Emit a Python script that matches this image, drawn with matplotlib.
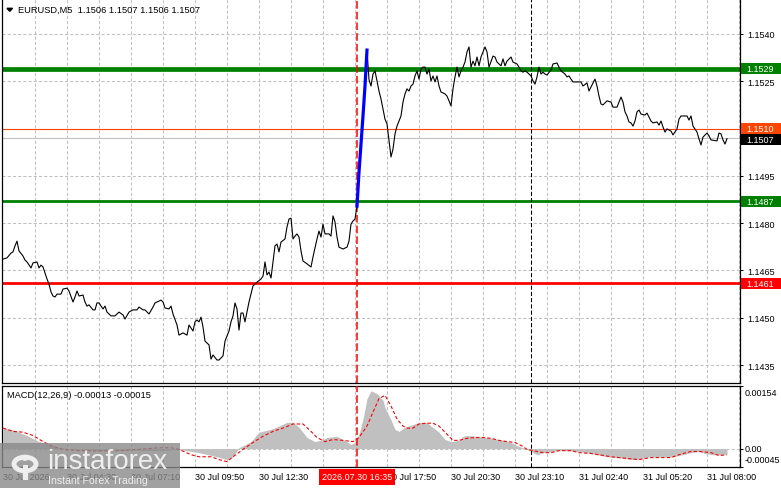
import numpy as np
import matplotlib.pyplot as plt
from matplotlib.patches import Rectangle, Circle, Polygon
from matplotlib.transforms import blended_transform_factory

# closes of EURUSD M5 (bar index, price)
price_bars = [0, 2, 4, 5, 6, 7, 8, 10, 11, 12, 14, 15, 17, 18, 19, 20, 22, 23, 24, 25, 26, 27, 29, 30,
              32, 33, 35, 36, 37, 38, 40, 41, 42, 43, 45, 46, 47, 48, 50, 51, 52, 54, 56, 58, 60, 61,
              63, 65, 67, 68, 70, 71, 73, 75, 76, 79, 80, 81, 83, 84, 85, 87, 88, 90, 92, 93, 95, 96,
              97, 98, 99, 100, 101, 102, 103, 104, 105, 107, 108, 110, 111, 113, 114, 115, 116, 117,
              118, 119, 120, 121, 123, 124, 125, 127, 129, 130, 131, 132, 133, 134, 135, 136, 137,
              138, 139, 141, 142, 143, 144, 145, 146, 147, 148, 149, 150, 152, 154, 155, 157, 158,
              159, 160, 161, 163, 164, 165, 166, 167, 168, 170, 172, 173, 174, 175, 176, 177,
              178, 179, 180, 181, 182,
              183, 184, 185, 186, 187, 188, 189, 190, 191, 192, 193, 194, 195, 196, 197, 199, 200,
              201, 202, 203, 204, 205, 206, 207, 208, 209, 210, 211, 212, 213, 214, 215, 216, 217,
              218, 219, 221, 222, 223, 224, 225, 226, 227, 228, 229, 230, 231, 232, 233, 234, 235,
              236, 237, 238, 239, 240, 241, 242, 243, 245, 246, 247, 249, 250, 251, 252, 254, 255,
              257, 258, 259, 260, 261, 262, 264, 265, 266, 267, 268, 269, 270, 271, 272, 274, 275,
              277, 278, 279, 281, 282, 283, 284, 285, 287, 289, 290, 292, 293, 294, 296, 297, 298,
              299, 300, 302, 304, 305, 307, 308, 309, 310, 311, 312, 313, 314, 315, 316, 317, 318,
              319, 321, 322, 324, 325, 327, 328, 329, 330, 331, 332, 334, 335, 337, 338, 339, 342,
              343, 344, 345, 347, 348, 349, 350, 352, 353, 354, 357, 358, 359, 360, 361, 362]
price_close = [1.14686, 1.14690, 1.14705, 1.14709, 1.14728, 1.14743, 1.14712, 1.14696, 1.14683, 1.14677,
               1.14658, 1.14674, 1.14677, 1.14658, 1.14667, 1.14661, 1.14623, 1.14607, 1.14582, 1.14569,
               1.14566, 1.14575, 1.14575, 1.14591, 1.14594, 1.14585, 1.14550, 1.14566, 1.14585, 1.14569,
               1.14572, 1.14550, 1.14537, 1.14541, 1.14525, 1.14525, 1.14547, 1.14547, 1.14528, 1.14537,
               1.14518, 1.14506, 1.14506, 1.14518, 1.14509, 1.14496, 1.14518, 1.14525, 1.14525, 1.14534,
               1.14525, 1.14525, 1.14512, 1.14534, 1.14547, 1.14556, 1.14550, 1.14531, 1.14528, 1.14537,
               1.14512, 1.14477, 1.14445, 1.14452, 1.14445, 1.14477, 1.14458, 1.14487, 1.14493, 1.14487,
               1.14502, 1.14471, 1.14426, 1.14420, 1.14414, 1.14369, 1.14382, 1.14366, 1.14366, 1.14379,
               1.14426, 1.14458, 1.14487, 1.14506, 1.14547, 1.14528, 1.14461, 1.14515, 1.14515, 1.14487,
               1.14550, 1.14575, 1.14601, 1.14613, 1.14623, 1.14632, 1.14677, 1.14636, 1.14645, 1.14626,
               1.14677, 1.14728, 1.14734, 1.14709, 1.14740, 1.14750, 1.14788, 1.14813, 1.14816, 1.14750,
               1.14759, 1.14766, 1.14756, 1.14712, 1.14680, 1.14671, 1.14661, 1.14693, 1.14750, 1.14775,
               1.14756, 1.14797, 1.14766, 1.14766, 1.14759, 1.14823, 1.14804, 1.14756, 1.14724, 1.14718,
               1.14724, 1.14743, 1.14797, 1.14807, 1.14813, 1.14854,
               1.14962, 1.15051, 1.15140, 1.15235, 1.15349,
               1.15255, 1.15235, 1.15273, 1.15283, 1.15251, 1.15219, 1.15194, 1.15162, 1.15130, 1.15115,
               1.15061, 1.15010, 1.15035, 1.15083, 1.15108, 1.15140, 1.15184, 1.15210, 1.15226, 1.15219,
               1.15235, 1.15241, 1.15267, 1.15283, 1.15257, 1.15289, 1.15295, 1.15295, 1.15273, 1.15289,
               1.15251, 1.15267, 1.15248, 1.15267, 1.15235, 1.15216, 1.15210, 1.15203, 1.15188, 1.15172,
               1.15226, 1.15264, 1.15295, 1.15264, 1.15283, 1.15295, 1.15311, 1.15343, 1.15359, 1.15295,
               1.15314, 1.15299, 1.15327, 1.15299, 1.15327, 1.15343, 1.15359, 1.15343, 1.15295, 1.15330,
               1.15327, 1.15311, 1.15299, 1.15321, 1.15299, 1.15314, 1.15327, 1.15311, 1.15305, 1.15295,
               1.15283, 1.15279, 1.15283, 1.15279, 1.15267, 1.15251, 1.15241, 1.15264, 1.15295, 1.15273,
               1.15279, 1.15273, 1.15270, 1.15286, 1.15305, 1.15308, 1.15295, 1.15283, 1.15273, 1.15264,
               1.15267, 1.15257, 1.15248, 1.15248, 1.15248, 1.15235, 1.15245, 1.15219, 1.15232, 1.15257,
               1.15235, 1.15203, 1.15178, 1.15175, 1.15188, 1.15184, 1.15168, 1.15168, 1.15184, 1.15200,
               1.15184, 1.15153, 1.15140, 1.15121, 1.15118, 1.15108, 1.15124, 1.15153, 1.15159, 1.15146,
               1.15143, 1.15149, 1.15124, 1.15118, 1.15121, 1.15111, 1.15124, 1.15105, 1.15089, 1.15099,
               1.15092, 1.15080, 1.15099, 1.15130, 1.15140, 1.15140, 1.15127, 1.15140, 1.15108, 1.15089,
               1.15067, 1.15048, 1.15073, 1.15086, 1.15077, 1.15064, 1.15061, 1.15086, 1.15083, 1.15064,
               1.15051, 1.15068]
impulse_start, impulse_end = 177, 182

# MACD(12,26,9) histogram and signal
hist_bars = [0, 4, 8, 14, 18, 24, 28, 38, 48, 58, 68, 78, 88, 98, 107, 112, 115, 118, 124, 128, 134,
             138, 142, 145, 148, 152, 156, 160, 162, 167, 170, 174, 176, 178, 180, 182, 184, 187, 190,
             191, 194, 196, 198, 201, 204, 208, 212, 214, 218, 221, 224, 228, 230, 232, 237, 241, 245,
             250, 254, 257, 260, 264, 267, 270, 274, 277, 282, 287, 292, 297, 302, 307, 312, 315, 318,
             324, 328, 334, 338, 344, 348, 351, 355, 358, 362]
hist_vals = [0.00050, 0.00047, 0.00040, 0.00027, 0.00017, 0.00010, 0.00002, -0.00003, -0.00005, -0.00005,
             -0.00004, -0.00005, -0.00002, -0.00010, -0.00020, -0.00027, -0.00020, 0.00002, 0.00017,
             0.00040, 0.00047, 0.00055, 0.00064, 0.00064, 0.00052, 0.00027, 0.00017, 0.00022, 0.00027,
             0.00030, 0.00022, 0.00010, 0.00015, 0.00035, 0.00072, 0.00122, 0.00141, 0.00134, 0.00118,
             0.00100, 0.00070, 0.00047, 0.00042, 0.00052, 0.00057, 0.00064, 0.00064, 0.00055, 0.00040,
             0.00022, 0.00017, 0.00020, 0.00030, 0.00032, 0.00030, 0.00027, 0.00025, 0.00020, 0.00015,
             0.00007, 0.00002, -0.00007, -0.00015, -0.00010, -0.00007, -0.00005, -0.00005, -0.00007,
             -0.00010, -0.00015, -0.00020, -0.00022, -0.00025, -0.00027, -0.00025, -0.00020, -0.00020,
             -0.00020, -0.00017, -0.00010, -0.00007, -0.00012, -0.00015, -0.00015, -0.00013]
sig_bars = [0, 5, 10, 15, 20, 25, 30, 38, 48, 58, 68, 78, 84, 88, 94, 98, 104, 108, 112, 115, 120, 125,
            130, 135, 140, 145, 150, 154, 157, 161, 165, 170, 175, 178, 182, 185, 188, 191, 194, 197,
            200, 202, 205, 208, 212, 215, 218, 222, 225, 228, 232, 236, 240, 244, 248, 252, 256, 260,
            262, 267, 270, 274, 278, 284, 288, 294, 298, 304, 308, 314, 318, 324, 328, 334, 338, 344,
            348, 354, 358, 362]
sig_vals = [0.00050, 0.00042, 0.00040, 0.00032, 0.00017, 0.00005, -0.00002, -0.00005, -0.00006, -0.00005,
            -0.00002, 0.00002, 0.00002, -0.00002, -0.00015, -0.00020, -0.00020, -0.00027, -0.00032,
            -0.00020, -0.00002, 0.00015, 0.00030, 0.00042, 0.00050, 0.00060, 0.00060, 0.00042, 0.00027,
            0.00017, 0.00022, 0.00020, 0.00017, 0.00027, 0.00055, 0.00089, 0.00122, 0.00130, 0.00104,
            0.00072, 0.00055, 0.00050, 0.00050, 0.00060, 0.00062, 0.00062, 0.00055, 0.00035, 0.00020,
            0.00020, 0.00025, 0.00027, 0.00027, 0.00025, 0.00020, 0.00017, 0.00015, 0.00005, -0.00002,
            -0.00007, -0.00010, -0.00010, -0.00005, -0.00005, -0.00010, -0.00012, -0.00015, -0.00020,
            -0.00022, -0.00025, -0.00027, -0.00022, -0.00022, -0.00022, -0.00015, -0.00007, -0.00007,
            -0.00010, -0.00017, -0.00015]

price_ticks = [1.1435, 1.1450, 1.1465, 1.1480, 1.1495, 1.1510, 1.1525, 1.1540]
levels = [1.1529, 1.1510, 1.1487, 1.1461]
level_colors = ['#008000', '#ff4500', '#008000', '#ff0000']
level_widths = [3.4, 0.8, 2.0, 2.0]
last_price = 1.1507
macd_ticks = [-0.00045, 0.0, 0.00154]

# the 15:10 label sits under the red time tag, so it is left out
xlab_bars = [0, 32, 64, 96, 128, 192, 224, 256, 288, 320, 352]
xlab_text = ['30 Jul 2026', '30 Jul 04:30', '30 Jul 07:10', '30 Jul 09:50', '30 Jul 12:30',
             '30 Jul 17:50', '30 Jul 20:30', '30 Jul 23:10', '31 Jul 02:40',
             '31 Jul 05:20', '31 Jul 08:00']
signal_bar = 177
day_sep_bar = 264
nbars = 369

W, H = 781, 489
plt.rcParams['font.family'] = ['Liberation Sans', 'DejaVu Sans']
fs = 6.5


def fx(px):
    return px / W


def fy(py):
    return 1 - py / H


fig = plt.figure(figsize=(W / 100, H / 100), dpi=100)
ax = fig.add_axes([fx(2), fy(384), fx(740) - fx(2), fy(0) - fy(384)])
ax2 = fig.add_axes([fx(2), fy(468), fx(740) - fx(2), fy(386.5) - fy(468)])

grid_style = dict(color='#c0c0c0', lw=0.75, linestyle=(0, (3, 2)))
for a in (ax, ax2):
    a.set_xlim(-0.5, nbars - 0.5)
    a.set_xticks(np.arange(16, nbars, 16))
    a.tick_params(axis='x', length=0, labelbottom=False)
    a.grid(True, axis='x', **grid_style)
    a.set_axisbelow(True)
    for s in a.spines.values():
        s.set_linewidth(0.9)
        s.set_color('black')
    a.axvline(signal_bar, color='#ff0000', lw=1.1, linestyle=(0, (5, 2)), zorder=3)
    a.axvline(day_sep_bar, color='black', lw=0.75, linestyle=(0, (4, 2)), zorder=3)
ax.spines['top'].set_visible(False)

# price panel
ax.set_ylim(1.142931, 1.155110)
ax.yaxis.tick_right()
ax.set_yticks(price_ticks)
ax.set_yticklabels([f'{p:.4f}' for p in price_ticks])
ax.tick_params(axis='y', length=2.5, width=0.75, pad=2.5, labelsize=fs)
ax.grid(True, axis='y', **grid_style)

for v, c, w in zip(levels, level_colors, level_widths):
    ax.axhline(v, color=c, lw=w, zorder=2)
ax.axhline(last_price, color='#c0c0c0', lw=0.8, zorder=2)

ax.plot(price_bars, price_close, color='black', lw=0.8, zorder=4)
pb = np.array(price_bars)
pc = np.array(price_close)
m = (pb >= impulse_start) & (pb <= impulse_end)
ax.plot(pb[m], pc[m], color='#0000ff', lw=2.3, zorder=5)

# level tags on the price scale
tr = blended_transform_factory(fig.transFigure, ax.transData)
half = 5.5 / 31530
tags = list(zip(levels, level_colors)) + [(last_price, 'black')]
for v, c in tags:
    yc = v - 0.000035 if c == 'black' else v
    ax.add_patch(Rectangle((fx(741), yc - half), 1 - fx(741), 2 * half, transform=tr,
                           facecolor=c, edgecolor='none', clip_on=False, zorder=6))
    ax.text(fx(746.5), yc, f'{v:.4f}', transform=tr, color='white', fontsize=fs,
            va='center', ha='left', clip_on=False, zorder=7)

fig.text(fx(18), fy(10.5), 'EURUSD,M5  1.1506 1.1507 1.1506 1.1507', fontsize=fs + 0.2,
         va='center', ha='left')
fig.add_artist(Polygon([(fx(7), fy(9.3)), (fx(12.5), fy(9.3)), (fx(9.75), fy(12.3))],
                       closed=True, transform=fig.transFigure, color='black'))

# MACD panel
ax2.set_ylim(-0.00045, 0.00154)
ax2.axhline(0, **grid_style, zorder=1)
ax2.fill_between(hist_bars, 0, hist_vals, color='#c0c0c0', lw=0, zorder=2)
ax2.plot(sig_bars, sig_vals, color='#ff0000', lw=0.8, linestyle=(0, (3, 2)), zorder=4)
ax2.yaxis.tick_right()
ax2.set_yticks(macd_ticks)
ax2.set_yticklabels([])
ax2.tick_params(axis='y', length=2.5, width=0.75)
fig.text(fx(7), fy(395), 'MACD(12,26,9) -0.00013 -0.00015', fontsize=fs + 0.2, va='center')
fig.text(fx(745), fy(394), '0.00154', fontsize=fs, va='center')
fig.text(fx(745), fy(449.5), '0.00', fontsize=fs, va='center')
fig.text(fx(745), fy(461), '-0.00045', fontsize=fs, va='center')

# time scale
trx = blended_transform_factory(ax2.transData, fig.transFigure)
for b, t in zip(xlab_bars, xlab_text):
    ax2.text(b, fy(477.5), t, transform=trx, fontsize=fs, va='center', ha='left', clip_on=False)
ax2.text(signal_bar, fy(478), '2026.07.30 16:35', transform=trx, fontsize=fs, color='white',
         va='center', ha='center', clip_on=False, zorder=8,
         bbox=dict(boxstyle='square,pad=0.35', facecolor='#ff0000', edgecolor='none'))

# watermark
fig.add_artist(Rectangle((0, 0), fx(180), fy(444), transform=fig.transFigure,
                         facecolor='#8a8a8a', edgecolor='none', alpha=0.8, zorder=20))
fig.add_artist(Circle((fx(25), fy(465)), 11 / W, transform=fig.transFigure, facecolor='none',
                      edgecolor='#eeeeee', lw=3.5, zorder=21))
fig.add_artist(Rectangle((fx(22.5), fy(481)), fx(5), fy(466) - fy(481), transform=fig.transFigure,
                         facecolor='#eeeeee', edgecolor='none', zorder=21))
fig.add_artist(Circle((fx(25), fy(460)), 3 / W, transform=fig.transFigure,
                      facecolor='#eeeeee', edgecolor='none', zorder=21))
fig.text(fx(47), fy(462), 'instaforex', fontsize=20, color='#eeeeee', va='center', ha='left',
         zorder=21)
fig.text(fx(48), fy(481), 'Instant Forex Trading', fontsize=7.6, color='#eeeeee', va='center',
         ha='left', zorder=21)

fig.savefig('out.png', dpi=100)
